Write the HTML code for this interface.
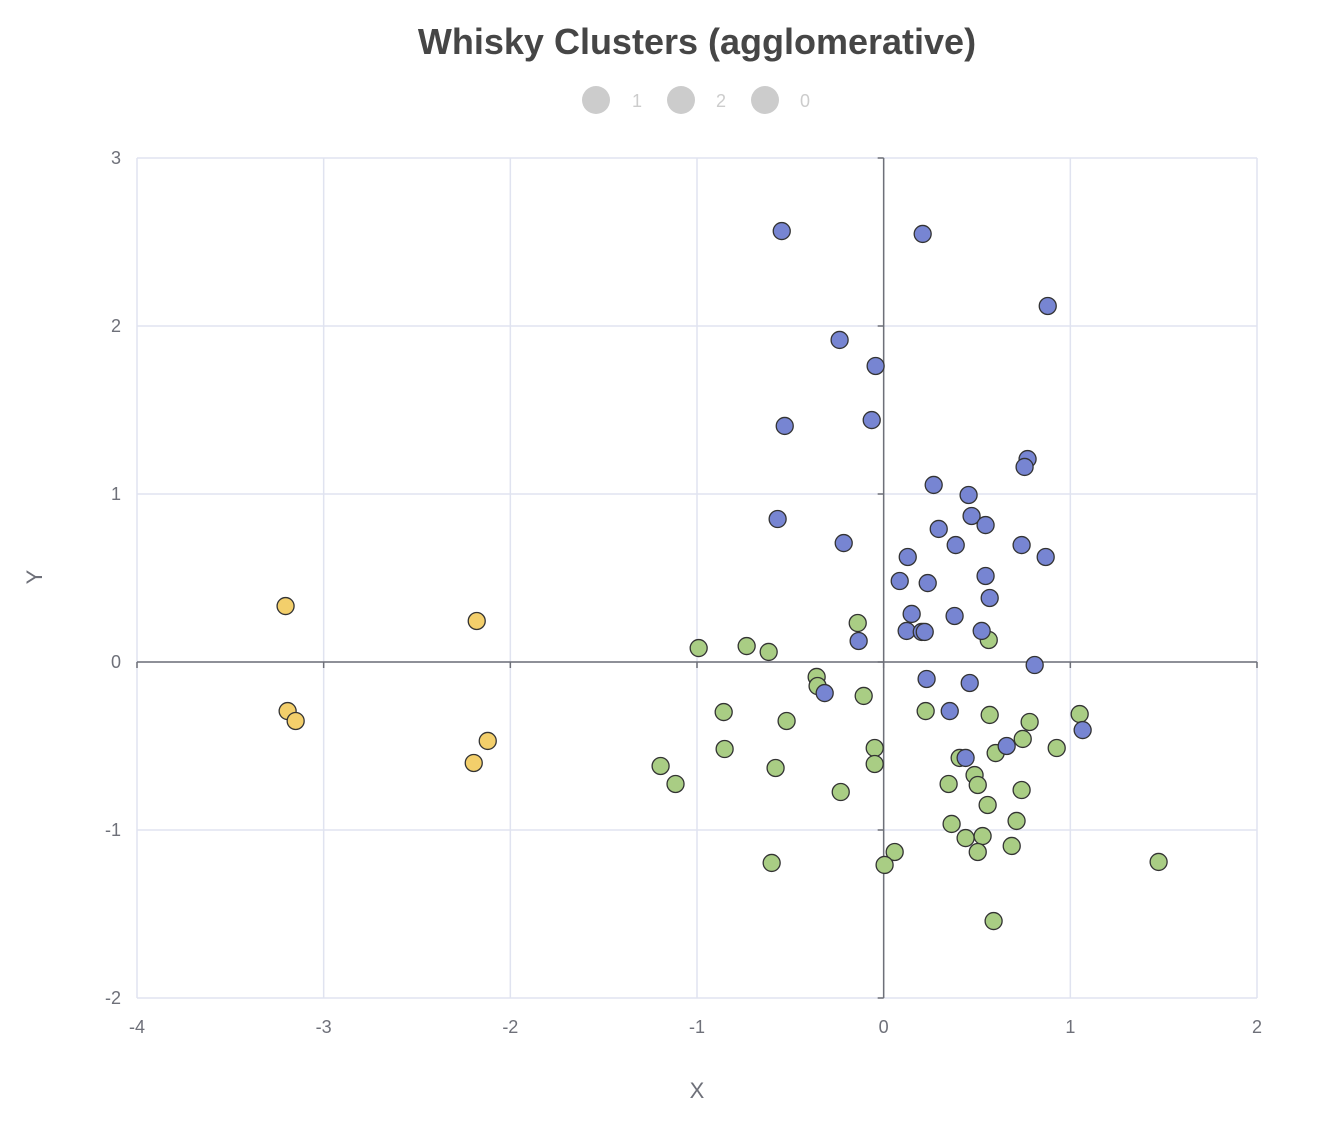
<!DOCTYPE html>
<html><head><meta charset="utf-8"><style>
html,body{margin:0;padding:0;background:#fff;}
svg{display:block;font-family:"Liberation Sans",sans-serif;}
</style></head><body>
<svg id="chart" width="1342" height="1128" viewBox="0 0 1342 1128">
<text x="697" y="54" text-anchor="middle" font-size="36" font-weight="bold" fill="#464646">Whisky Clusters (agglomerative)</text>
<g>
 <g><circle cx="596" cy="100" r="14" fill="#ccc"/><text x="632" y="107" font-size="18" fill="#ccc">1</text></g>
 <g><circle cx="681" cy="100" r="14" fill="#ccc"/><text x="716" y="107" font-size="18" fill="#ccc">2</text></g>
 <g><circle cx="765" cy="100" r="14" fill="#ccc"/><text x="800" y="107" font-size="18" fill="#ccc">0</text></g>
</g>
<g id="grid"></g>
<g id="axes"></g>
<g id="points"></g>
<text x="697" y="1098" text-anchor="middle" font-size="22" fill="#6e7079">X</text>
<text x="42" y="577" text-anchor="middle" font-size="22" fill="#6e7079" transform="rotate(-90 42 577)">Y</text>
</svg>
<script>
const xTicks=[-4,-3,-2,-1,0,1,2];
const yTicks=[-2,-1,0,1,2,3];
const c1x=[-0.546,0.209,0.879,-0.236,-0.043,-0.530,-0.064,0.771,0.755,0.268,0.455,0.471,0.546,-0.568,0.295,-0.214,0.386,0.739,0.868,0.129,0.546,0.086,0.236,0.568,0.150,0.380,0.123,0.204,0.220,0.525,-0.134,0.809,0.230,0.461,-0.316,0.354,0.439,0.659,1.066];
const c1y=[2.565,2.548,2.119,1.917,1.762,1.405,1.440,1.208,1.161,1.054,0.994,0.869,0.815,0.851,0.792,0.708,0.696,0.696,0.625,0.625,0.512,0.482,0.470,0.381,0.286,0.274,0.185,0.179,0.179,0.185,0.125,-0.018,-0.101,-0.125,-0.185,-0.292,-0.571,-0.500,-0.405];
const c2x=[-0.991,-0.734,-0.616,-0.139,0.563,-0.359,-0.354,-0.107,-0.857,-0.520,0.225,0.568,0.782,1.050,0.745,0.927,-0.852,-0.048,0.600,0.407,-1.195,-0.579,-0.048,0.487,-1.115,0.348,0.504,-0.230,0.739,0.557,0.364,0.712,0.439,0.530,0.686,0.059,0.504,-0.600,0.005,1.473,0.589];
const c2y=[0.083,0.095,0.060,0.232,0.131,-0.089,-0.143,-0.202,-0.298,-0.351,-0.292,-0.315,-0.357,-0.310,-0.458,-0.512,-0.518,-0.512,-0.542,-0.571,-0.619,-0.631,-0.607,-0.673,-0.726,-0.726,-0.732,-0.774,-0.762,-0.851,-0.964,-0.946,-1.048,-1.036,-1.095,-1.131,-1.131,-1.196,-1.208,-1.190,-1.542];
const c0x=[-3.204,-2.180,-3.193,-3.150,-2.121,-2.196];
const c0y=[0.333,0.244,-0.292,-0.351,-0.470,-0.601];

const X0=137,X1=1257,Y0=998,Y1=158;
const sx=v=>X0+(v+4)/6*(X1-X0);
const sy=v=>Y0-(v+2)/5*(Y0-Y1);
const NS="http://www.w3.org/2000/svg";
function mk(tag,attrs,parent){const e=document.createElementNS(NS,tag);for(const k in attrs)e.setAttribute(k,attrs[k]);parent.appendChild(e);return e;}
const grid=document.getElementById('grid'),axes=document.getElementById('axes'),pts=document.getElementById('points');
xTicks.forEach(t=>{
 const l=mk('line',{x1:sx(t),x2:sx(t),y1:Y1,y2:Y0,stroke:'#e0e3f0','stroke-width':1.5},grid);
 
 
 const tk=mk('line',{x1:sx(t),x2:sx(t),y1:sy(0),y2:sy(0)+6,stroke:'#6e7079','stroke-width':1.5},axes);
 
 
 const tx=mk('text',{x:sx(t),y:1033,'text-anchor':'middle','font-size':18,fill:'#6e7079'},axes);
 tx.textContent=t;
 
 
});
yTicks.forEach(t=>{
 const l=mk('line',{x1:X0,x2:X1,y1:sy(t),y2:sy(t),stroke:'#e0e3f0','stroke-width':1.5},grid);
 
 
 const tk=mk('line',{x1:sx(0)-6,x2:sx(0),y1:sy(t),y2:sy(t),stroke:'#6e7079','stroke-width':1.5},axes);
 
 
 const tx=mk('text',{x:121,y:sy(t)+6,'text-anchor':'end','font-size':18,fill:'#6e7079'},axes);
 tx.textContent=t;
 
 
});
const xa=mk('line',{x1:X0,x2:X1,y1:sy(0),y2:sy(0),stroke:'#6e7079','stroke-width':1.5},axes);


const ya=mk('line',{x1:sx(0),x2:sx(0),y1:Y1,y2:Y0,stroke:'#6e7079','stroke-width':1.5},axes);


function series(xs,ys,color,name){
 xs.forEach((x,i)=>{
  const c=mk('circle',{cx:sx(x),cy:sy(ys[i]),r:8.5,fill:color,stroke:'#333','stroke-width':1.3},pts);
  
  
 });
}
series(c0x,c0y,'#f3cf6b','point-cluster-0');
series(c2x,c2y,'#a9cd84','point-cluster-2');
series(c1x,c1y,'#7785d2','point-cluster-1');
</script>
</body></html>
